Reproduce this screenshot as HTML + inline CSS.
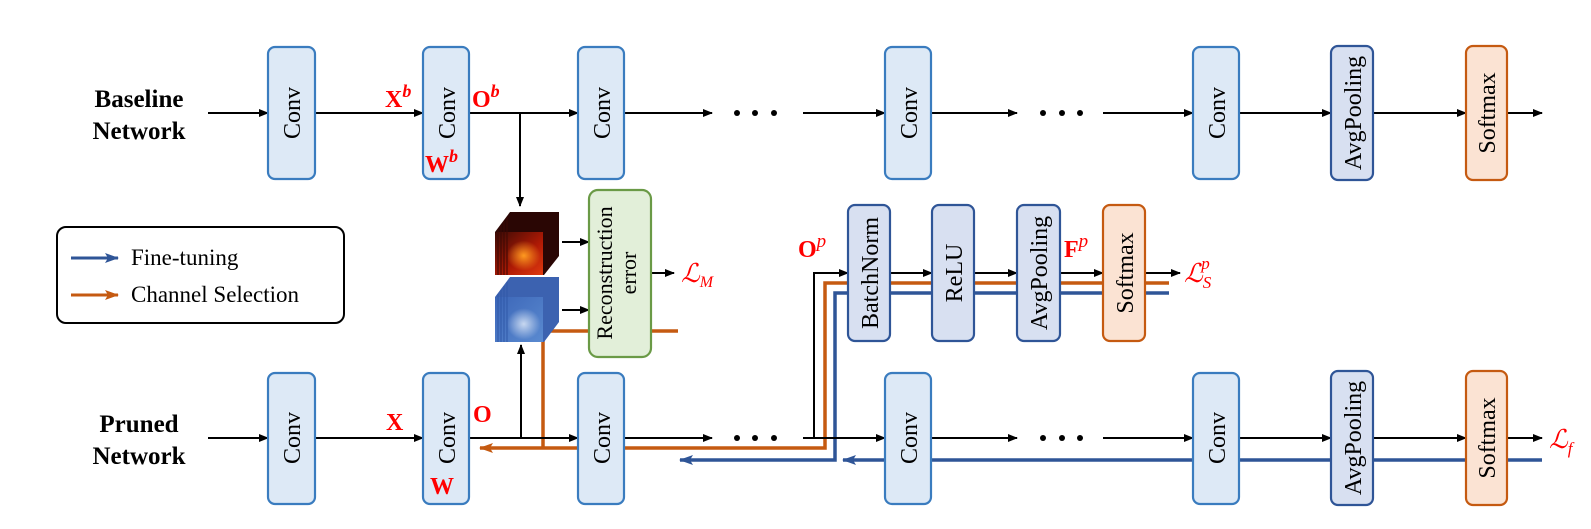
<!DOCTYPE html>
<html><head><meta charset="utf-8"><style>
html,body{margin:0;padding:0;background:#fff;}
svg{display:block;}
text{font-family:"Liberation Serif",serif;}
.cv{fill:#dde9f6;stroke:#3a7cbf;}
.dk{fill:#d8e0f1;stroke:#2f5597;}
.sm{fill:#fbe3d3;stroke:#c55a11;}
.bl{stroke:#000;stroke-width:2;fill:none;}
.red{fill:#ff0000;font-weight:bold;font-size:24px;}
.redi{fill:#ff0000;font-style:italic;font-size:26px;}
</style></head><body>
<svg width="1591" height="529" viewBox="0 0 1591 529" xmlns="http://www.w3.org/2000/svg">
<defs>
<marker id="ak" markerWidth="10" markerHeight="8" refX="9" refY="4" orient="auto" markerUnits="userSpaceOnUse"><path d="M0,0 L10,4 L0,8 z" fill="#000"/></marker>
<marker id="ab" markerWidth="14" markerHeight="10" refX="13" refY="5" orient="auto" markerUnits="userSpaceOnUse"><path d="M0,0 L14,5 L0,10 L3,5 z" fill="#2f5597"/></marker>
<marker id="ao" markerWidth="14" markerHeight="10" refX="13" refY="5" orient="auto" markerUnits="userSpaceOnUse"><path d="M0,0 L14,5 L0,10 L3,5 z" fill="#c55a11"/></marker>
<linearGradient id="gr" x1="0" y1="0" x2="1" y2="1"><stop offset="0" stop-color="#3a0a05"/><stop offset="0.6" stop-color="#b01a05"/><stop offset="1" stop-color="#e03a10"/></linearGradient>
<radialGradient id="gr2" cx="0.6" cy="0.55" r="0.35"><stop offset="0" stop-color="#ff9a20"/><stop offset="1" stop-color="#ff9a20" stop-opacity="0"/></radialGradient>
<linearGradient id="gb" x1="0" y1="0" x2="1" y2="1"><stop offset="0" stop-color="#3c66b8"/><stop offset="1" stop-color="#5a8ad0"/></linearGradient>
<radialGradient id="gb2" cx="0.6" cy="0.6" r="0.35"><stop offset="0" stop-color="#c8d8f0"/><stop offset="1" stop-color="#c8d8f0" stop-opacity="0"/></radialGradient>
</defs>

<text x="139" y="107" text-anchor="middle" font-weight="bold" font-size="25">Baseline</text>
<text x="139" y="139" text-anchor="middle" font-weight="bold" font-size="25">Network</text>
<text x="139" y="432" text-anchor="middle" font-weight="bold" font-size="25">Pruned</text>
<text x="139" y="464" text-anchor="middle" font-weight="bold" font-size="25">Network</text>

<rect x="57" y="227" width="287" height="96" rx="9" fill="#fff" stroke="#000" stroke-width="2"/>
<line x1="71" y1="258" x2="118" y2="258" stroke="#2f5597" stroke-width="3" marker-end="url(#ab)"/>
<line x1="71" y1="295" x2="118" y2="295" stroke="#c55a11" stroke-width="3" marker-end="url(#ao)"/>
<text x="131" y="265" font-size="23">Fine-tuning</text>
<text x="131" y="302" font-size="23">Channel Selection</text>

<g class="bl">
<line x1="208" y1="113" x2="268" y2="113" marker-end="url(#ak)"/>
<line x1="315" y1="113" x2="423" y2="113" marker-end="url(#ak)"/>
<line x1="469" y1="113" x2="578" y2="113" marker-end="url(#ak)"/>
<line x1="624" y1="113" x2="712" y2="113" marker-end="url(#ak)"/>
<line x1="803" y1="113" x2="885" y2="113" marker-end="url(#ak)"/>
<line x1="931" y1="113" x2="1017" y2="113" marker-end="url(#ak)"/>
<line x1="1103" y1="113" x2="1193" y2="113" marker-end="url(#ak)"/>
<line x1="1239" y1="113" x2="1331" y2="113" marker-end="url(#ak)"/>
<line x1="1373" y1="113" x2="1466" y2="113" marker-end="url(#ak)"/>
<line x1="1507" y1="113" x2="1542" y2="113" marker-end="url(#ak)"/>
<line x1="520" y1="113" x2="520" y2="206" marker-end="url(#ak)"/>
</g>
<g fill="#000"><circle cx="737" cy="113" r="3"/><circle cx="755" cy="113" r="3"/><circle cx="774" cy="113" r="3"/>
<circle cx="1043" cy="113" r="3"/><circle cx="1062" cy="113" r="3"/><circle cx="1080" cy="113" r="3"/>
<circle cx="737" cy="438" r="3"/><circle cx="755" cy="438" r="3"/><circle cx="774" cy="438" r="3"/>
<circle cx="1043" cy="438" r="3"/><circle cx="1062" cy="438" r="3"/><circle cx="1080" cy="438" r="3"/></g>

<polyline points="1169,283 825,283 825,448 480,448" fill="none" stroke="#c55a11" stroke-width="3.5" marker-end="url(#ao)"/>
<polyline points="678,331 543,331 543,448" fill="none" stroke="#c55a11" stroke-width="3.5"/>
<polyline points="1169,293 835,293 835,460 680,460" fill="none" stroke="#2f5597" stroke-width="3.5" marker-end="url(#ab)"/>
<line x1="1542" y1="460" x2="843" y2="460" stroke="#2f5597" stroke-width="3.5" marker-end="url(#ab)"/>

<g class="bl">
<line x1="208" y1="438" x2="268" y2="438" marker-end="url(#ak)"/>
<line x1="315" y1="438" x2="423" y2="438" marker-end="url(#ak)"/>
<line x1="469" y1="438" x2="578" y2="438" marker-end="url(#ak)"/>
<line x1="521" y1="438" x2="521" y2="345" marker-end="url(#ak)"/>
<line x1="624" y1="438" x2="712" y2="438" marker-end="url(#ak)"/>
<line x1="803" y1="438" x2="885" y2="438" marker-end="url(#ak)"/>
<line x1="931" y1="438" x2="1017" y2="438" marker-end="url(#ak)"/>
<line x1="1103" y1="438" x2="1193" y2="438" marker-end="url(#ak)"/>
<line x1="1239" y1="438" x2="1331" y2="438" marker-end="url(#ak)"/>
<line x1="1373" y1="438" x2="1466" y2="438" marker-end="url(#ak)"/>
<line x1="1507" y1="438" x2="1542" y2="438" marker-end="url(#ak)"/>
<polyline points="814,438 814,273 848,273" marker-end="url(#ak)"/>
<line x1="890" y1="273" x2="932" y2="273" marker-end="url(#ak)"/>
<line x1="974" y1="273" x2="1017" y2="273" marker-end="url(#ak)"/>
<line x1="1060" y1="273" x2="1103" y2="273" marker-end="url(#ak)"/>
<line x1="1145" y1="273" x2="1180" y2="273" marker-end="url(#ak)"/>
<line x1="562" y1="242" x2="589" y2="242" marker-end="url(#ak)"/>
<line x1="562" y1="310" x2="589" y2="310" marker-end="url(#ak)"/>
<line x1="651" y1="273" x2="674" y2="273" marker-end="url(#ak)"/>
</g>

<g>
<polygon points="495,232 510,212 559,212 559,256 544,275 495,275" fill="#2a0604"/>
<rect x="495" y="232" width="48" height="43" fill="url(#gr)"/>
<rect x="495" y="232" width="48" height="43" fill="url(#gr2)"/>
<g stroke="#3a0804" stroke-width="1"><line x1="498" y1="229" x2="498" y2="275"/><line x1="501" y1="225" x2="501" y2="275"/><line x1="504" y1="221" x2="504" y2="275"/><line x1="507" y1="217" x2="507" y2="275"/></g>
<polygon points="495,297 510,277 559,277 559,322 544,342 495,342" fill="#3c62b0"/>
<rect x="495" y="297" width="48" height="45" fill="url(#gb)"/>
<rect x="495" y="297" width="48" height="45" fill="url(#gb2)"/>
<g stroke="#2f58a8" stroke-width="1"><line x1="498" y1="294" x2="498" y2="342"/><line x1="501" y1="290" x2="501" y2="342"/><line x1="504" y1="286" x2="504" y2="342"/><line x1="507" y1="282" x2="507" y2="342"/></g>
</g>

<rect x="589" y="190" width="62" height="167" rx="9" fill="#e2efd9" stroke="#6a9a46" stroke-width="2.2"/>
<text transform="translate(612,273) rotate(-90)" text-anchor="middle" font-size="22">Reconstruction</text>
<text transform="translate(636,273) rotate(-90)" text-anchor="middle" font-size="22">error</text>
<text x="681" y="282" class="redi">ℒ<tspan font-size="16" dy="5">M</tspan></text>

<g stroke-width="2.2">
<rect class="cv" x="268" y="47" width="47" height="132" rx="7"/>
<rect class="cv" x="423" y="47" width="46" height="132" rx="7"/>
<rect class="cv" x="578" y="47" width="46" height="132" rx="7"/>
<rect class="cv" x="885" y="47" width="46" height="132" rx="7"/>
<rect class="cv" x="1193" y="47" width="46" height="132" rx="7"/>
<rect class="dk" x="1331" y="46" width="42" height="134" rx="7"/>
<rect class="sm" x="1466" y="46" width="41" height="134" rx="7"/>
<rect class="cv" x="268" y="373" width="47" height="131" rx="7"/>
<rect class="cv" x="423" y="373" width="46" height="131" rx="7"/>
<rect class="cv" x="578" y="373" width="46" height="131" rx="7"/>
<rect class="cv" x="885" y="373" width="46" height="131" rx="7"/>
<rect class="cv" x="1193" y="373" width="46" height="131" rx="7"/>
<rect class="dk" x="1331" y="371" width="42" height="134" rx="7"/>
<rect class="sm" x="1466" y="371" width="41" height="134" rx="7"/>
<rect class="dk" x="848" y="205" width="42" height="136" rx="7"/>
<rect class="dk" x="932" y="205" width="42" height="136" rx="7"/>
<rect class="dk" x="1017" y="205" width="43" height="136" rx="7"/>
<rect class="sm" x="1103" y="205" width="42" height="136" rx="7"/>
</g>

<g font-size="24">
<text transform="translate(300,113) rotate(-90)" text-anchor="middle">Conv</text>
<text transform="translate(455,113) rotate(-90)" text-anchor="middle">Conv</text>
<text transform="translate(610,113) rotate(-90)" text-anchor="middle">Conv</text>
<text transform="translate(917,113) rotate(-90)" text-anchor="middle">Conv</text>
<text transform="translate(1225,113) rotate(-90)" text-anchor="middle">Conv</text>
<text transform="translate(1361,113) rotate(-90)" text-anchor="middle">AvgPooling</text>
<text transform="translate(1495,113) rotate(-90)" text-anchor="middle">Softmax</text>
<text transform="translate(300,438) rotate(-90)" text-anchor="middle">Conv</text>
<text transform="translate(455,438) rotate(-90)" text-anchor="middle">Conv</text>
<text transform="translate(610,438) rotate(-90)" text-anchor="middle">Conv</text>
<text transform="translate(917,438) rotate(-90)" text-anchor="middle">Conv</text>
<text transform="translate(1225,438) rotate(-90)" text-anchor="middle">Conv</text>
<text transform="translate(1361,438) rotate(-90)" text-anchor="middle">AvgPooling</text>
<text transform="translate(1495,438) rotate(-90)" text-anchor="middle">Softmax</text>
<text transform="translate(878,273) rotate(-90)" text-anchor="middle">BatchNorm</text>
<text transform="translate(962,273) rotate(-90)" text-anchor="middle">ReLU</text>
<text transform="translate(1047,273) rotate(-90)" text-anchor="middle">AvgPooling</text>
<text transform="translate(1133,273) rotate(-90)" text-anchor="middle">Softmax</text>
</g>

<text x="385" y="107" class="red">X<tspan font-style="italic" font-size="18" dy="-10">b</tspan></text>
<text x="425" y="172" class="red">W<tspan font-style="italic" font-size="18" dy="-10">b</tspan></text>
<text x="472" y="107" class="red">O<tspan font-style="italic" font-size="18" dy="-10">b</tspan></text>
<text x="386" y="430" class="red">X</text>
<text x="430" y="494" class="red">W</text>
<text x="473" y="422" class="red">O</text>
<text x="798" y="257" class="red">O<tspan font-style="italic" font-size="19" dy="-10" font-weight="normal">p</tspan></text>
<text x="1064" y="257" class="red">F<tspan font-style="italic" font-size="19" dy="-10" font-weight="normal">p</tspan></text>
<text x="1184" y="282" class="redi">ℒ<tspan font-size="17" dy="6">S</tspan><tspan font-size="17" dx="-10" dy="-19">p</tspan></text>
<text x="1549" y="448" class="redi">ℒ<tspan font-size="17" dy="6">f</tspan></text>
</svg>
</body></html>
